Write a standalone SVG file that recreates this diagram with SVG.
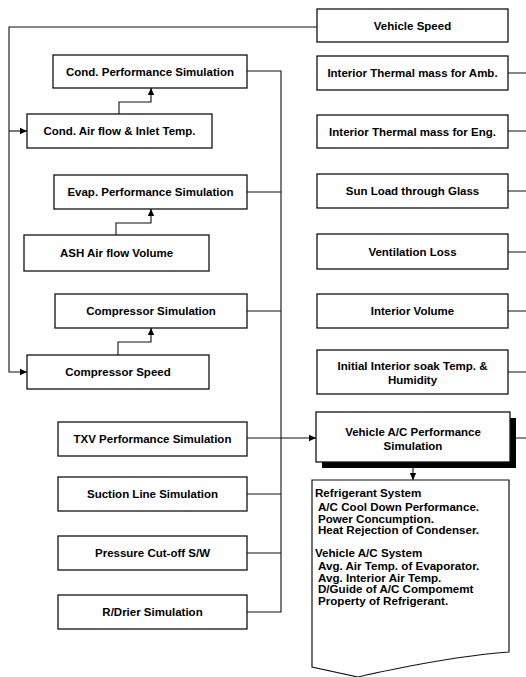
<svg xmlns="http://www.w3.org/2000/svg" width="526" height="677" viewBox="0 0 526 677">
<style>
.box{fill:#fff;stroke:#111;stroke-width:1.3}
.t{font-family:"Liberation Sans",Arial,sans-serif;font-weight:bold;font-size:11.5px;fill:#000;text-anchor:middle}
.d{font-family:"Liberation Sans",Arial,sans-serif;font-weight:bold;font-size:11.6px;fill:#000}
.c{fill:none;stroke:#111;stroke-width:1.1}
</style>
<defs>
<marker id="ah" markerWidth="8" markerHeight="8" refX="7" refY="4" orient="auto" markerUnits="userSpaceOnUse">
<path d="M0,0.8 L7,4 L0,7.2 Z" fill="#000"/>
</marker>
</defs>
<rect width="526" height="677" fill="#fff"/>
<g id="connectors">
<path class="c" d="M317,27 H9 V372 H27" marker-end="url(#ah)"/>
<path class="c" d="M9,131 H27" marker-end="url(#ah)"/>
<path class="c" d="M119,114 V102 H151 V88" marker-end="url(#ah)"/>
<path class="c" d="M116,235 V223 H151 V209" marker-end="url(#ah)"/>
<path class="c" d="M118,355 V342 H151 V328" marker-end="url(#ah)"/>
<path class="c" d="M247,71 H281 V612 H247"/>
<path class="c" d="M247,192 H281 M247,311 H281 M247,494 H281 M247,553 H281"/>
<path class="c" d="M247,438 H316" marker-end="url(#ah)"/>
<path class="c" d="M508,73 H526 M508,131 H526 M508,191 H526 M508,252 H526 M508,311 H526 M508,372 H526 M516,438 H526"/>
<path class="c" d="M413,466 V480" marker-end="url(#ah)"/>
</g>
<g id="n-cond-perf"><rect class="box" x="53" y="55" width="194" height="33"/><text class="t" x="150" y="75.5">Cond. Performance Simulation</text></g>
<g id="n-cond-air"><rect class="box" x="27" y="114" width="185" height="34"/><text class="t" x="119.5" y="135">Cond. Air flow &amp; Inlet Temp.</text></g>
<g id="n-evap-perf"><rect class="box" x="54" y="175" width="193" height="34"/><text class="t" x="150.5" y="196">Evap. Performance Simulation</text></g>
<g id="n-ash"><rect class="box" x="24" y="235" width="185" height="36"/><text class="t" x="116.5" y="257">ASH Air flow Volume</text></g>
<g id="n-comp-sim"><rect class="box" x="55" y="294" width="192" height="34"/><text class="t" x="151" y="315">Compressor Simulation</text></g>
<g id="n-comp-speed"><rect class="box" x="27" y="355" width="182" height="34"/><text class="t" x="118" y="376">Compressor Speed</text></g>
<g id="n-txv"><rect class="box" x="58" y="422" width="189" height="34"/><text class="t" x="152.5" y="443">TXV Performance Simulation</text></g>
<g id="n-suction"><rect class="box" x="58" y="477" width="189" height="34"/><text class="t" x="152.5" y="498">Suction Line Simulation</text></g>
<g id="n-pressure"><rect class="box" x="58" y="536" width="189" height="34"/><text class="t" x="152.5" y="557">Pressure Cut-off S/W</text></g>
<g id="n-rdrier"><rect class="box" x="58" y="595" width="189" height="34"/><text class="t" x="152.5" y="616">R/Drier Simulation</text></g>
<g id="n-veh-speed"><rect class="box" x="317" y="9" width="191" height="33"/><text class="t" x="412.5" y="30">Vehicle Speed</text></g>
<g id="n-therm-amb"><rect class="box" x="317" y="56" width="191" height="34"/><text class="t" x="412.5" y="77">Interior Thermal mass for Amb.</text></g>
<g id="n-therm-eng"><rect class="box" x="317" y="115" width="191" height="33"/><text class="t" x="412.5" y="135.5">Interior Thermal mass for Eng.</text></g>
<g id="n-sun"><rect class="box" x="317" y="174" width="191" height="34"/><text class="t" x="412.5" y="195">Sun Load through Glass</text></g>
<g id="n-vent"><rect class="box" x="317" y="234" width="191" height="35"/><text class="t" x="412.5" y="256">Ventilation Loss</text></g>
<g id="n-int-vol"><rect class="box" x="317" y="294" width="191" height="34"/><text class="t" x="412.5" y="315">Interior Volume</text></g>
<g id="n-init"><rect class="box" x="317" y="350" width="191" height="44"/><text class="t" x="412.5" y="370">Initial Interior soak Temp. &amp;</text><text class="t" x="412.5" y="384">Humidity</text></g>
<g id="n-ac-perf"><rect x="322" y="418" width="194" height="50" fill="#000"/><rect class="box" x="316" y="412" width="194" height="50" stroke-width="1.6"/><text class="t" x="413" y="436">Vehicle A/C Performance</text><text class="t" x="413" y="450">Simulation</text></g>
<g id="n-results">
<path d="M312,480 H509 V652 C470,655 440,660 400,668 C380,672 365,675 358,677 L312,667 Z" fill="#fff" stroke="#111" stroke-width="1.2"/>
<text class="d" x="315" y="497">Refrigerant System</text>
<text class="d" x="318" y="511">A/C Cool Down Performance.</text>
<text class="d" x="318" y="522.5">Power Concumption.</text>
<text class="d" x="318" y="534">Heat Rejection of Condenser.</text>
<text class="d" x="315" y="557">Vehicle A/C System</text>
<text class="d" x="318" y="570">Avg. Air Temp. of Evaporator.</text>
<text class="d" x="318" y="581.5">Avg. Interior Air Temp.</text>
<text class="d" x="318" y="593">D/Guide of A/C Compomemt</text>
<text class="d" x="318" y="604.5">Property of Refrigerant.</text>
</g>
</svg>
